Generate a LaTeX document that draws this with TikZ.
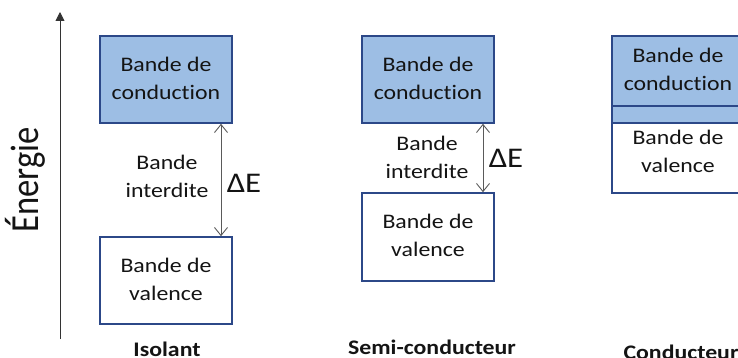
\documentclass[tikz,border=0pt]{standalone}
\usepackage{fontspec}
\setmainfont{Carlito}[Ligatures={NoCommon}]
\usepackage{graphicx}
\usetikzlibrary{arrows.meta}
\definecolor{bandblue}{RGB}{157,190,228}
\definecolor{bandedge}{RGB}{44,72,136}
\definecolor{txt}{RGB}{20,20,20}
\definecolor{gaparrow}{RGB}{90,90,90}
\newcommand\hstr[1]{\scalebox{1.15}[1]{#1}}
\newcommand\twol[2]{\hstr{\begin{tabular}{@{}c@{}}#1\\#2\end{tabular}}}
\begin{document}
\begin{tikzpicture}[x=1pt,y=-1pt,
  band/.style={draw=bandedge, line width=1.6pt, minimum width=132pt, inner sep=0pt,
     text=txt, font=\fontsize{20.7}{28}\selectfont},
  lbl/.style={text=txt, inner sep=0pt, font=\fontsize{20.7}{28}\selectfont},
  caption/.style={text=txt, inner sep=0pt, font=\fontsize{20.7}{26}\selectfont\bfseries},
  gaparr/.style={draw=gaparrow, line width=0.9pt, {Straight Barb[length=8pt,width=13pt]}-{Straight Barb[length=8pt,width=13pt]}},
  de/.style={text=txt, inner sep=0pt, font=\fontsize{28.5}{32}\selectfont}]
\useasboundingbox (0,0) rectangle (738,358);
\clip (0,0) rectangle (738,358);
% energy axis
\coordinate (ax0) at (60,339);
\coordinate (ax1) at (60,12);
\draw[draw=black!80, line width=0.9pt, -{Triangle[length=9pt,width=9pt]}] (ax0) -- (ax1);
\node[lbl, rotate=90, font=\fontsize{34.6}{38}\selectfont] (energie) at (25,180) {\scalebox{1}[1.15]{Énergie}};
% Isolant
\node[band, fill=bandblue, minimum height=87pt] (ic) at (166,79.5) {\twol{Bande de}{conduction}};
\node[band, fill=white, minimum height=87pt] (iv) at (166,280.5) {\twol{Bande de}{valence}};
\draw[gaparr] (ic.south east -| 221,0) -- (iv.north east -| 221,0);
\node[lbl] (ii) at (167,178) {\twol{Bande}{interdite}};
\node[de] (ide) at (244,183) {\hstr{ΔE}};
\node[caption] (il) at (167,349) {\hstr{Isolant}};
% Semi-conducteur
\node[band, fill=bandblue, minimum height=87pt] (sc) at (428,79.5) {\twol{Bande de}{conduction}};
\node[band, fill=white, minimum height=88pt] (sv) at (428,237) {\twol{Bande de}{valence}};
\draw[gaparr] (sc.south east -| 483,0) -- (sv.north east -| 483,0);
\node[lbl] (si) at (427,159) {\twol{Bande}{interdite}};
\node[de] (sde) at (506,158) {\hstr{ΔE}};
\node[caption] (sl) at (432,347) {\hstr{Semi-conducteur}};
% Conducteur
\node[band, fill=bandblue, minimum height=70pt] (cc) at (678,71) {\twol{Bande de}{conduction}};
\node[band, fill=bandblue, minimum height=17pt] (cs) at (678,114.5) {};
\node[band, fill=white, minimum height=70pt] (cv) at (678,158) {};
\node[lbl] (cvt) at (678,153) {\twol{Bande de}{valence}};
\node[caption] (cl) at (681,352) {\hstr{Conducteur}};
\end{tikzpicture}
\end{document}
